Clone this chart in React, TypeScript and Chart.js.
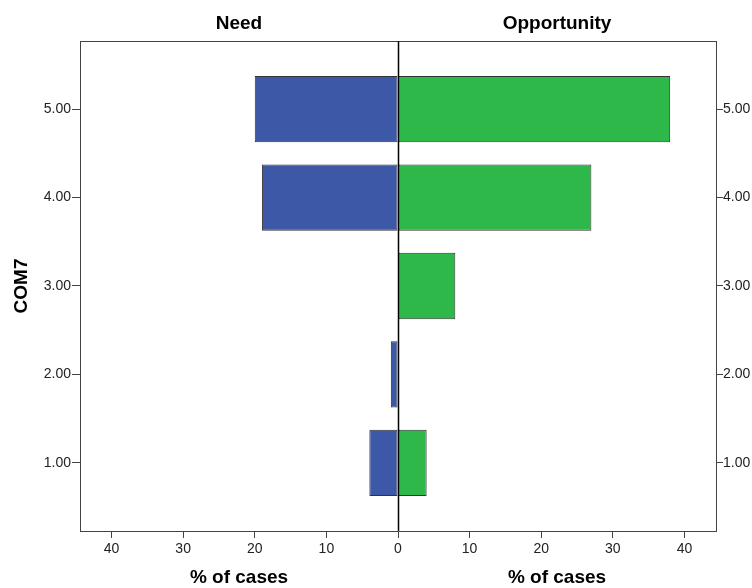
import React, { useEffect, useRef } from "react";
import { Chart, registerables } from "chart.js";

Chart.register(...registerables);

const categories = [1, 2, 3, 4, 5];
const needValues = [4, 1, 0, 19, 20];
const opportunityValues = [4, 0, 8, 27, 38];
const xTicks = [-40, -30, -20, -10, 0, 10, 20, 30, 40];
const yTicks = [1, 2, 3, 4, 5];
const panelTitles = ["Need", "Opportunity"];
const xTitle = "% of cases";
const yTitle = "COM7";

const FONT = "'Liberation Sans', Arial, sans-serif";

export default function App() {
  const ref = useRef<HTMLCanvasElement | null>(null);

  useEffect(() => {
    document.body.style.margin = "0";
    const canvas = ref.current;
    if (!canvas) return;

    const needPts = categories
      .map((c, i) => ({ x: -needValues[i], y: c }))
      .filter((p) => p.x !== 0);
    const oppPts = categories
      .map((c, i) => ({ x: opportunityValues[i], y: c }))
      .filter((p) => p.x !== 0);

    const framePlugin = {
      id: "frame",
      afterDatasetsDraw(chart: any) {
        const { ctx, chartArea, scales } = chart;
        const x = scales.x;
        ctx.save();
        ctx.strokeStyle = "#444";
        ctx.lineWidth = 1;
        ctx.beginPath();
        ctx.moveTo(chartArea.left, chartArea.top + 0.5);
        ctx.lineTo(chartArea.right, chartArea.top + 0.5);
        ctx.stroke();
        const zx = Math.round(x.getPixelForValue(0)) + 0.5;
        ctx.strokeStyle = "#000";
        ctx.lineWidth = 1.5;
        ctx.beginPath();
        ctx.moveTo(zx, chartArea.top);
        ctx.lineTo(zx, chartArea.bottom);
        ctx.stroke();
        ctx.fillStyle = "#000";
        ctx.font = "bold 19px " + FONT;
        ctx.textAlign = "center";
        ctx.textBaseline = "middle";
        const lx = x.getPixelForValue(-22.2);
        const rx = x.getPixelForValue(22.2);
        ctx.fillText(panelTitles[0], lx, 24);
        ctx.fillText(panelTitles[1], rx, 24);
        ctx.fillText(xTitle, lx, 578);
        ctx.fillText(xTitle, rx, 578);
        ctx.restore();
      },
    };

    const setYTicks = (scale: any) => {
      scale.ticks = yTicks.map((v) => ({ value: v }));
    };

    const chart = new Chart(canvas, {
      type: "bar",
      data: {
        datasets: [
          {
            label: panelTitles[0],
            data: needPts as any,
            backgroundColor: "#3e58a8",
            borderColor: "#333",
            borderWidth: 1,
            borderSkipped: false,
            grouped: false,
            categoryPercentage: 1,
            barPercentage: 0.75,
            yAxisID: "y",
          } as any,
          {
            label: panelTitles[1],
            data: oppPts as any,
            backgroundColor: "#2eb84a",
            borderColor: "#333",
            borderWidth: 1,
            borderSkipped: false,
            grouped: false,
            categoryPercentage: 1,
            barPercentage: 0.75,
            yAxisID: "y",
          } as any,
        ],
      },
      plugins: [framePlugin],
      options: {
        indexAxis: "y",
        animation: false,
        responsive: false,
        devicePixelRatio: 1,
        layout: { padding: { top: 41, left: 0, right: 0, bottom: 0 } },
        plugins: { legend: { display: false }, tooltip: { enabled: false } },
        scales: {
          x: {
            type: "linear",
            position: "bottom",
            min: -44.4,
            max: 44.4,
            offset: false,
            afterBuildTicks: (scale: any) => {
              scale.ticks = xTicks.map((v) => ({ value: v }));
            },
            ticks: {
              callback: (v: any) => String(Math.abs(Number(v))),
              font: { family: FONT, size: 14 },
              color: "#222",
              padding: 3,
              maxRotation: 0,
            },
            grid: {
              drawOnChartArea: false,
              drawTicks: true,
              tickLength: 7,
              color: "#444",
              offset: false,
            },
            border: { display: true, color: "#444", width: 1 },
            afterFit: (scale: any) => {
              scale.height = 57;
            },
          },
          y: {
            type: "linear",
            position: "left",
            min: 0.23,
            max: 5.77,
            offset: false,
            afterBuildTicks: setYTicks,
            ticks: {
              callback: (v: any) => Number(v).toFixed(2),
              font: { family: FONT, size: 14 },
              color: "#222",
              padding: 1,
            },
            title: {
              display: true,
              text: yTitle,
              font: { family: FONT, size: 19, weight: "bold" },
              color: "#000",
              padding: { top: 10, bottom: 0 },
            },
            grid: {
              drawOnChartArea: false,
              drawTicks: true,
              tickLength: 8,
              color: "#444",
              offset: false,
            },
            border: { display: true, color: "#444", width: 1 },
            afterFit: (scale: any) => {
              scale.width = 80;
            },
          },
          y2: {
            type: "linear",
            position: "right",
            min: 0.23,
            max: 5.77,
            offset: false,
            afterBuildTicks: setYTicks,
            ticks: {
              callback: (v: any) => Number(v).toFixed(2),
              font: { family: FONT, size: 14 },
              color: "#222",
              padding: 0,
            },
            grid: {
              drawOnChartArea: false,
              drawTicks: true,
              tickLength: 7,
              color: "#444",
              offset: false,
            },
            border: { display: true, color: "#444", width: 1 },
            afterFit: (scale: any) => {
              scale.width = 36;
            },
          },
        },
      } as any,
    });

    return () => chart.destroy();
  }, []);

  return <canvas ref={ref} width={752} height={588} style={{ display: "block" }} />;
}
